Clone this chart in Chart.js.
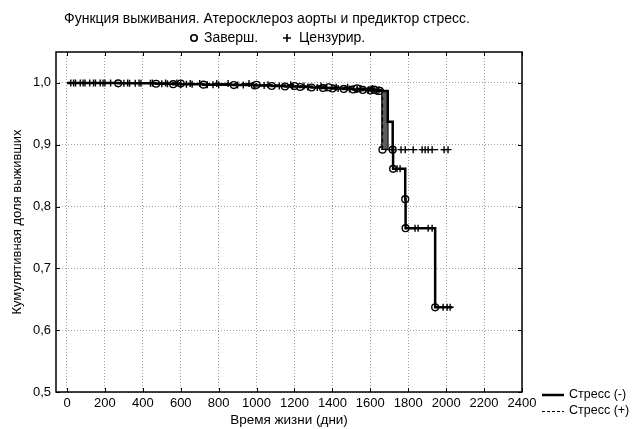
<!DOCTYPE html>
<html>
<head>
<meta charset="utf-8">
<script src="https://cdn.jsdelivr.net/npm/chart.js@4.4.1/dist/chart.umd.min.js"></script>
<style>
    html, body { margin: 0; padding: 0; background: #fff; }
</style>
</head>
<body>
<canvas id="survivalChart" width="641" height="429"></canvas>
<script>
// ===== AXES =====
const xTicks = [0, 200, 400, 600, 800, 1000, 1200, 1400, 1600, 1800, 2000, 2200, 2400];
const yTicks = [0.5, 0.6, 0.7, 0.8, 0.9, 1.0];

// ===== Стресс (-) : Kaplan-Meier steps =====
const minusTime = [0, 270, 470, 560, 720, 880, 990, 1080, 1150, 1230, 1290, 1350, 1400, 1460, 1510, 1560, 1600, 1640, 1692, 1718, 1720, 1784, 1786, 1942, 2032];
const minusSurv = [1.0, 0.9993, 0.9986, 0.9979, 0.9972, 0.9965, 0.9958, 0.995, 0.9942, 0.9934, 0.9926, 0.9918, 0.991, 0.9902, 0.9894, 0.9886, 0.9878, 0.987, 0.937, 0.892, 0.861, 0.812, 0.765, 0.637, 0.637];
const minusEventTime = [270, 470, 560, 720, 880, 990, 1080, 1150, 1230, 1290, 1350, 1400, 1460, 1510, 1560, 1600, 1640, 1718, 1720, 1784, 1786, 1942];
const minusCensorTime = [20, 45, 70, 95, 120, 150, 175, 200, 230, 300, 330, 360, 390, 440, 500, 530, 600, 630, 660, 740, 770, 800, 900, 930, 1040, 1120, 1190, 1270, 1320, 1370, 1430, 1490, 1530, 1590, 1620,
    1741, 1757, 1836, 1852, 1905, 1926, 1984, 2005, 2021];

// ===== Стресс (+) : Kaplan-Meier steps =====
const plusTime = [0, 600, 1000, 1200, 1380, 1530, 1620, 1650, 1664, 2010];
const plusSurv = [1.0, 0.999, 0.997, 0.995, 0.993, 0.991, 0.989, 0.987, 0.892, 0.892];
const plusEventTime = [600, 1000, 1200, 1380, 1530, 1620, 1650, 1664];
const plusCensorTime = [35, 85, 140, 190, 320, 380, 450, 520, 580, 650, 700, 790, 850, 960, 1060, 1180, 1250, 1340, 1420, 1480, 1550, 1610, 1645,
    1715, 1762, 1784, 1826, 1873, 1889, 1905, 1926, 1989, 2010];

// overlapping drops around 1660-1695 show up as one heavy bar
const dropBarTime = 1677;
const dropBarSurv = [0.892, 0.988];

const titleText = "Функция выживания. Атеросклероз аорты и предиктор стресс.";
const seriesNames = ["Стресс (-)", "Стресс (+)"];
const markerNames = ["Заверш.", "Цензурир."];

const FONT = '"Liberation Sans", Arial, sans-serif';

//
// ================= HELPERS =================
//
function survAt(times, survs, t) {
    let s = survs[0];
    for (let i = 0; i < times.length; i++) {
        if (times[i] <= t) s = survs[i];
    }
    return s;
}

function toPoints(xs, ys) {
    return xs.map((x, i) => ({ x: x, y: ys[i] }));
}

function markerPoints(times, stepT, stepS) {
    return times.map(t => ({ x: t, y: survAt(stepT, stepS, t) }));
}

function fmtComma(v) {
    return v.toFixed(1).replace(".", ",");
}

//
// ================= FRAME, TITLE, LEGENDS =================
//
const decorPlugin = {
    id: "decor",
    afterDraw(chart) {
        const { ctx, chartArea: a, scales } = chart;
        ctx.save();

        // box round the plot
        ctx.strokeStyle = "#000";
        ctx.lineWidth = 1.5;
        ctx.strokeRect(a.left, a.top, a.right - a.left, a.bottom - a.top);

        // short ticks pointing inwards
        ctx.lineWidth = 1;
        ctx.beginPath();
        xTicks.forEach(v => {
            const px = Math.round(scales.x.getPixelForValue(v)) + 0.5;
            ctx.moveTo(px, a.top); ctx.lineTo(px, a.top + 4);
            ctx.moveTo(px, a.bottom); ctx.lineTo(px, a.bottom - 4);
        });
        yTicks.forEach(v => {
            const py = Math.round(scales.y.getPixelForValue(v)) + 0.5;
            ctx.moveTo(a.left, py); ctx.lineTo(a.left + 4, py);
            ctx.moveTo(a.right, py); ctx.lineTo(a.right - 4, py);
        });
        ctx.stroke();

        // title
        ctx.fillStyle = "#000";
        ctx.textBaseline = "middle";
        ctx.textAlign = "center";
        ctx.font = "14px " + FONT;
        ctx.fillText(titleText, 267, 19);

        // marker legend
        ctx.textAlign = "left";
        ctx.lineWidth = 1.6;
        ctx.beginPath();
        ctx.arc(194, 38, 3.2, 0, Math.PI * 2);
        ctx.fillStyle = "#fff";
        ctx.fill();
        ctx.stroke();
        ctx.fillStyle = "#000";
        ctx.fillText(markerNames[0], 204, 38);
        ctx.beginPath();
        ctx.moveTo(283, 38); ctx.lineTo(291, 38);
        ctx.moveTo(287, 34); ctx.lineTo(287, 42);
        ctx.stroke();
        ctx.fillText(markerNames[1], 299, 38);

        // series legend
        ctx.font = "12.5px " + FONT;
        ctx.lineWidth = 2.5;
        ctx.beginPath();
        ctx.moveTo(542, 395); ctx.lineTo(564, 395);
        ctx.stroke();
        ctx.lineWidth = 1;
        ctx.setLineDash([3, 2]);
        ctx.beginPath();
        ctx.moveTo(542, 411.5); ctx.lineTo(564, 411.5);
        ctx.stroke();
        ctx.setLineDash([]);
        ctx.fillText(seriesNames[0], 569, 395);
        ctx.fillText(seriesNames[1], 569, 411);

        ctx.restore();
    }
};

//
// ================= CHART =================
//
const ctx = document.getElementById("survivalChart").getContext("2d");

new Chart(ctx, {
    type: "line",
    data: {
        datasets: [
            {
                label: seriesNames[1],
                data: toPoints(plusTime, plusSurv),
                stepped: "before",
                borderColor: "#000",
                borderWidth: 1.2,
                borderDash: [4, 3],
                pointRadius: 0,
                fill: false
            },
            {
                label: seriesNames[0],
                data: toPoints(minusTime, minusSurv),
                stepped: "before",
                borderColor: "#000",
                borderWidth: 2.5,
                pointRadius: 0,
                fill: false
            },
            {
                label: "drop",
                type: "bar",
                data: [{ x: dropBarTime, y: dropBarSurv }],
                backgroundColor: "#5c5c5c",
                borderColor: "#000",
                borderWidth: 1.2,
                borderSkipped: false,
                barThickness: 7,
                grouped: false
            },
            {
                label: "censored (-)",
                type: "scatter",
                data: markerPoints(minusCensorTime, minusTime, minusSurv),
                pointStyle: "cross",
                pointRadius: 3.5,
                borderColor: "#000",
                borderWidth: 1.4,
                showLine: false
            },
            {
                label: "censored (+)",
                type: "scatter",
                data: markerPoints(plusCensorTime, plusTime, plusSurv),
                pointStyle: "cross",
                pointRadius: 3.5,
                borderColor: "#000",
                borderWidth: 1.4,
                showLine: false
            },
            {
                label: "events (+)",
                type: "scatter",
                data: markerPoints(plusEventTime, plusTime, plusSurv),
                pointStyle: "circle",
                pointRadius: 3.4,
                backgroundColor: "#fff",
                borderColor: "#000",
                borderWidth: 1.4,
                showLine: false
            },
            {
                label: "events (-)",
                type: "scatter",
                data: markerPoints(minusEventTime, minusTime, minusSurv),
                pointStyle: "circle",
                pointRadius: 3.4,
                backgroundColor: "#fff",
                borderColor: "#000",
                borderWidth: 1.4,
                showLine: false
            }
        ]
    },
    options: {
        responsive: false,
        animation: false,
        layout: { padding: { top: 52, right: 119, left: 0, bottom: 0 } },
        plugins: {
            legend: { display: false },
            tooltip: { enabled: false }
        },
        scales: {
            x: {
                type: "linear",
                offset: false,
                min: -58,
                max: 2400,
                afterBuildTicks: scale => { scale.ticks = xTicks.map(v => ({ value: v })); },
                afterFit: scale => { scale.height = 37; },
                grid: { color: "#a0a0a0", lineWidth: 1, drawTicks: false, offset: false },
                border: { display: false, dash: [1, 2] },
                ticks: {
                    color: "#000",
                    font: { family: FONT, size: 13 },
                    padding: 4,
                    maxRotation: 0,
                    callback: v => String(v)
                },
                title: {
                    display: true,
                    text: "Время жизни (дни)",
                    color: "#000",
                    font: { family: FONT, size: 13.5 },
                    padding: { top: 0, bottom: 1 }
                }
            },
            y: {
                type: "linear",
                min: 0.5,
                max: 1.05,
                afterBuildTicks: scale => { scale.ticks = yTicks.map(v => ({ value: v })); },
                afterFit: scale => { scale.width = 56; },
                grid: { color: "#a0a0a0", lineWidth: 1, drawTicks: false },
                border: { display: false, dash: [1, 2] },
                ticks: {
                    color: "#000",
                    font: { family: FONT, size: 13 },
                    padding: 5,
                    callback: v => fmtComma(v)
                },
                title: {
                    display: true,
                    text: "Кумулятивная доля выживших",
                    color: "#000",
                    font: { family: FONT, size: 13 },
                    padding: { top: 10, bottom: 0 }
                }
            }
        }
    },
    plugins: [decorPlugin]
});
</script>
</body>
</html>
